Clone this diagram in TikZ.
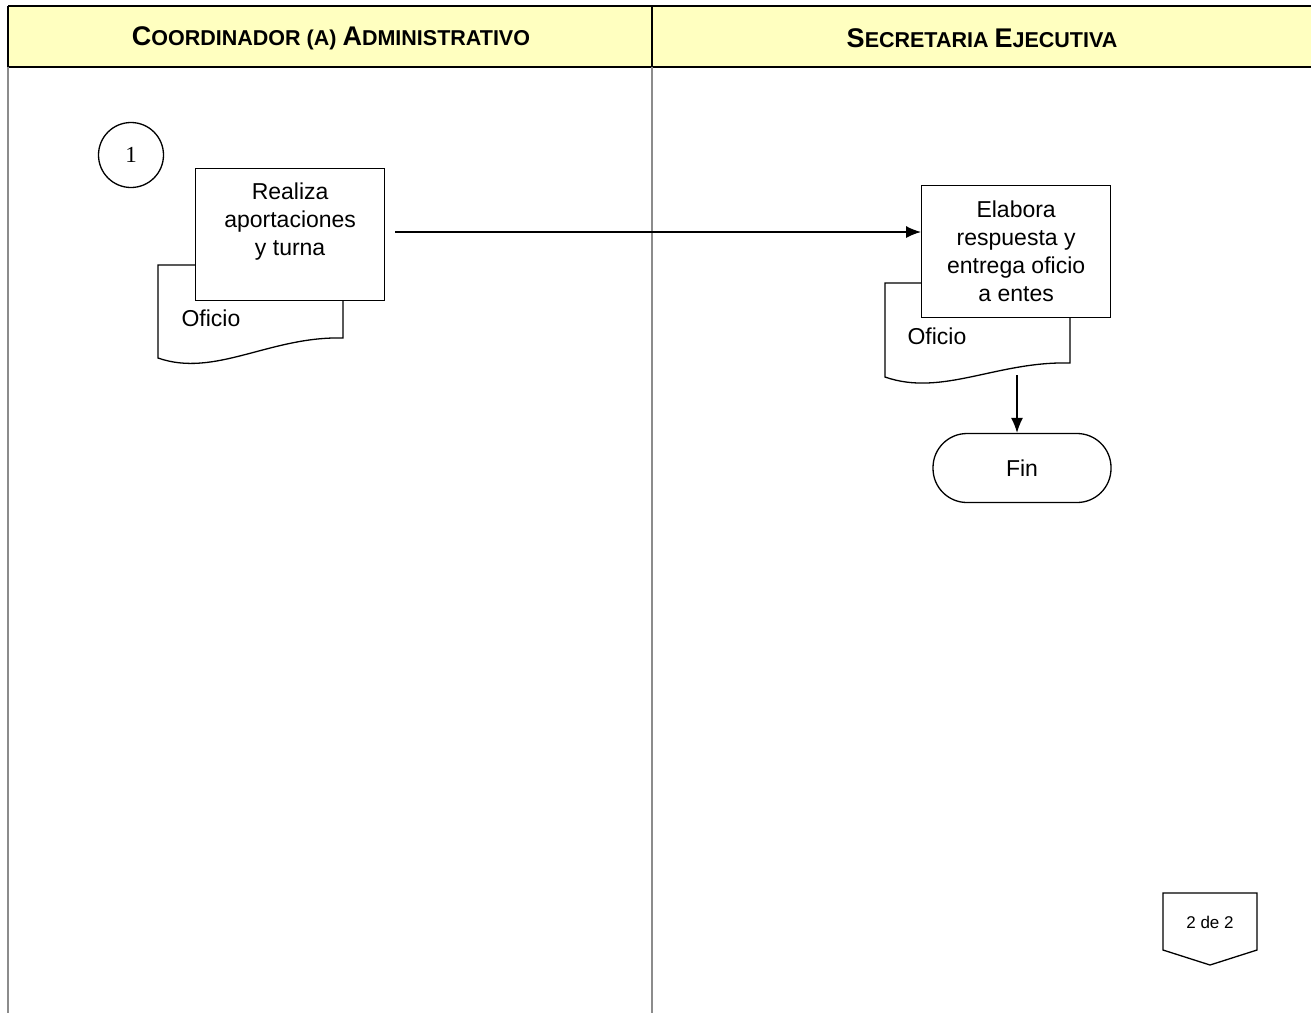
\documentclass[tikz,border=0pt]{standalone}
\usepackage{fontspec}
\setmainfont{Liberation Sans}
\newfontfamily\serifnum{Liberation Serif}
\usetikzlibrary{arrows.meta}
\newcommand{\capbig}[1]{{\fontsize{27}{27}\selectfont #1}}
\newcommand{\capsmall}[1]{{\fontsize{21.5}{22}\selectfont #1}}
\begin{document}
\begin{tikzpicture}[x=1pt,y=-1pt,
  lanerule/.style={draw=black,line width=1.8pt},
  bodyrule/.style={draw=gray!90,line width=1.6pt},
  procbox/.style={draw,line width=1.3pt,fill=white,minimum width=189pt,minimum height=132pt,align=center,anchor=north west,inner sep=0pt},
  bodytext/.style={font=\fontsize{23}{28}\selectfont},
  flow/.style={line width=1.3pt,-{Latex[length=15pt,width=12pt]}},
  doc/.style={draw,line width=1.3pt,fill=white}
]
\useasboundingbox (0,0) rectangle (1311,1013);

% header band
\fill[fill={rgb,255:red,255;green,255;blue,192}] (8,6) rectangle (1311,67);
\draw[lanerule] (8,6) -- (1311,6);
\draw[lanerule] (8,67) -- (1311,67);
\draw[lanerule] (8,6) -- (8,67);
\draw[lanerule] (652,6) -- (652,67);
\node (h1) at (331,38) {\bfseries\capbig{C}\capsmall{OORDINADOR (A) }\capbig{A}\capsmall{DMINISTRATIVO}};
\node (h2) at (982,38) {\bfseries\capbig{S}\capsmall{ECRETARIA }\capbig{E}\capsmall{JECUTIVA}};

% lane bodies
\draw[bodyrule] (8,67) -- (8,1013);
\draw[bodyrule] (652,67) -- (652,1013);

% connector 1
\node[draw,circle,line width=1.3pt,minimum size=65pt,inner sep=0pt,font=\serifnum\fontsize{23}{23}\selectfont] (c1) at (131,155) {1};

% document under step 1
\draw[doc] (158,358) -- (158,265) -- (343,265) -- (343,338)
  .. controls (270,336) and (215,378) .. cycle;
\node[bodytext,anchor=base west] (d1) at (178,326) {Oficio};
\node[procbox,bodytext] (p1) at (195,168) {\parbox[c][132pt][c]{189pt}{\centering Realiza\\aportaciones\\y turna\par\kern27pt}};

% document under step 2
\draw[doc] (885,377) -- (885,283) -- (1070,283) -- (1070,363)
  .. controls (997,361) and (942,397) .. cycle;
\node[bodytext,anchor=base west] (d2) at (904,344) {Oficio};
\node[procbox,bodytext] (p2) at (921,185) {\parbox[c][132pt][c]{189pt}{\centering Elabora\\respuesta y\\entrega oficio\\a entes}};

% terminator
\node[draw,line width=1.3pt,rounded corners=34pt,minimum width=178pt,minimum height=69pt,bodytext] (fin) at (1022,468) {Fin};

% off-page connector
\draw[line width=1.3pt] (1163,893) -- (1257,893) -- (1257,950) -- (1210,965) -- (1163,950) -- cycle;
\node[font=\fontsize{17}{17}\selectfont] (pg) at (1210,922) {2 de 2};

% flow arrows
\coordinate (a1) at (395,232);
\draw[flow] (a1) -- (p2.west |- a1);
\coordinate (a2) at (1017,375);
\draw[flow] (a2) -- (fin.north -| a2);
\end{tikzpicture}
\end{document}
